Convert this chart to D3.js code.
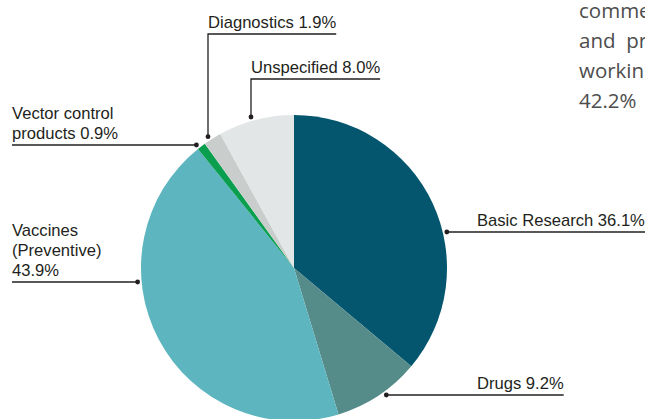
<!DOCTYPE html>
<html>
<head>
<meta charset="utf-8">
<script src="https://cdn.jsdelivr.net/npm/d3@7"></script>
<style>
  html, body { margin: 0; padding: 0; background: #fff; }
  svg { display: block; }
</style>
</head>
<body>
<svg id="chart" width="645" height="419"></svg>
<script>
// Funding shares by product category (percent of total)
const categories = ["Basic Research", "Drugs", "Vaccines (Preventive)", "Vector control products", "Diagnostics", "Unspecified"];
const shares = [36.1, 9.2, 43.9, 0.9, 1.9, 8.0];
const sliceColors = ["#03566e", "#558b89", "#5cb5bf", "#0a9e4f", "#c9cecc", "#e2e6e7"];

// Label wording, one entry per text line; the share is appended to the last line
const labelLines = [
  ["Basic Research"],
  ["Drugs"],
  ["Vaccines", "(Preventive)", ""],
  ["Vector control", "products"],
  ["Diagnostics"],
  ["Unspecified"]
];

// Visible part of the neighbouring column's body text
const sideText = ["comme", "and  pr", "workin", "42.2%"];

const svg = d3.select("#chart");
const W = 645, H = 419;
const cx = 294, cy = 268, radius = 153, dotRadius = 157;

const pie = d3.pie().sort(null).value(d => d.share).startAngle(0).endAngle(2 * Math.PI);
const arc = d3.arc().innerRadius(0).outerRadius(radius);
const data = categories.map((c, i) => ({ name: c, share: shares[i], color: sliceColors[i], lines: labelLines[i] }));
const arcs = pie(data);

const g = svg.append("g").attr("transform", `translate(${cx},${cy})`);
g.selectAll("path.slice")
  .data(arcs)
  .join("path")
  .attr("class", "slice")
  .attr("d", arc)
  .attr("fill", d => d.data.color);

// Leader layout: where each label's rule sits
const leaders = [
  { kind: "right", y: 232, textX: 477, toEdge: true },
  { kind: "right", y: 395, textX: 477 },
  { kind: "left",  y: 282, textX: 12 },
  { kind: "left",  y: 145, textX: 12 },
  { kind: "top",   x: 208, y: 34 },
  { kind: "top",   x: 251, y: 79 }
];

const fmt = d3.format(".1f");
const ink = "#231f20";
const labels = svg.append("g")
  .attr("font-family", "'Liberation Sans', Arial, Helvetica, sans-serif")
  .attr("font-size", "16.6px")
  .attr("fill", ink);

arcs.forEach((a, i) => {
  const L = leaders[i];
  const lines = a.data.lines.slice();
  const last = lines.length - 1;
  lines[last] = (lines[last] + " " + fmt(a.data.share) + "%").trim();

  let dotX, dotY, textX;
  const lineY = L.y;
  if (L.kind === "top") {
    dotX = L.x;
    dotY = cy - Math.sqrt(dotRadius * dotRadius - (L.x - cx) * (L.x - cx));
    textX = L.x;
  } else {
    const dir = L.kind === "right" ? 1 : -1;
    dotY = L.y;
    dotX = cx + dir * Math.sqrt(dotRadius * dotRadius - (L.y - cy) * (L.y - cy));
    textX = L.textX;
  }

  const t = labels.append("text");
  lines.forEach((s, k) => {
    t.append("tspan")
      .attr("x", textX)
      .attr("y", lineY - 6 - (lines.length - 1 - k) * 20)
      .text(s);
  });
  let widest = 0;
  t.selectAll("tspan").each(function () { widest = Math.max(widest, this.getComputedTextLength()); });
  const ruleEnd = L.toEdge ? W : textX + widest;

  let pathD;
  if (L.kind === "top") {
    pathD = `M${dotX},${dotY}V${lineY}H${ruleEnd}`;
  } else if (L.kind === "right") {
    pathD = `M${dotX},${dotY}H${ruleEnd}`;
  } else {
    pathD = `M${textX},${lineY}H${dotX}`;
  }
  labels.append("path")
    .attr("d", pathD)
    .attr("fill", "none")
    .attr("stroke", ink)
    .attr("stroke-width", 1.3);
  labels.append("circle")
    .attr("cx", dotX)
    .attr("cy", dotY)
    .attr("r", 2.4)
    .attr("fill", ink);
});

// Right-hand column text
const side = svg.append("g")
  .attr("font-family", "'Open Sans', 'Noto Sans', sans-serif")
  .attr("font-size", "20.5px")
  .attr("fill", "#4d4d4d");
sideText.forEach((s, k) => {
  side.append("text")
    .attr("x", 579)
    .attr("y", 18 + k * 30)
    .style("white-space", "pre")
    .text(s);
});
</script>
</body>
</html>
